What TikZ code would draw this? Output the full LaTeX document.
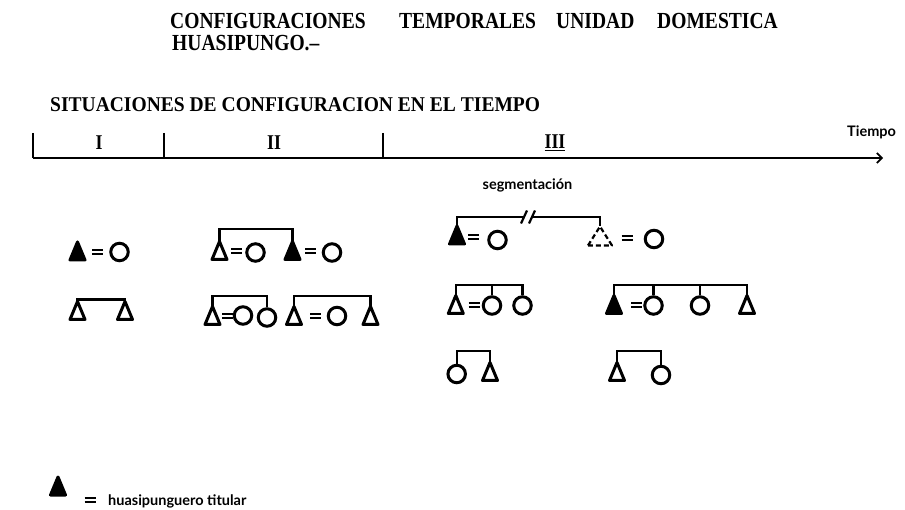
\documentclass[tikz,border=0pt]{standalone}
\usepackage{fontspec}
\usetikzlibrary{arrows.meta}
\newfontfamily\titlefont{Liberation Serif}[FakeStretch=0.85]
\newfontfamily\subtitlefont{Liberation Serif}[FakeStretch=0.93]
\newfontfamily\labelfont{Lato}
\begin{document}
\begin{tikzpicture}[x=1pt,y=-1pt,
  sym/.style={line width=3pt},
  trishape/.style={minimum width=15pt, minimum height=18pt, inner sep=0pt, outer sep=0pt,
    append after command={\pgfextra{\path[sym,line join=round,#1] (\tikzlastnode.south west) -- (\tikzlastnode.north) -- (\tikzlastnode.south east) -- cycle;}}},
  opentri/.style={trishape={draw}},
  solidtri/.style={trishape={draw,fill}},
  dashtri/.style={trishape={draw,dash pattern=on 5pt off 3pt,line width=2.2pt}, minimum width=24pt, minimum height=19pt},
  circ/.style={circle, draw, sym, minimum size=17.5pt, inner sep=0pt},
  br/.style={line width=2.2pt},
  axis/.style={line width=1.7pt},
  eqsign/.pic={\draw[line width=2pt] (-5.5,-2) -- (5.5,-2) (-5.5,2) -- (5.5,2);},
  ttl/.style={font=\titlefont\bfseries\fontsize{23}{25}\selectfont, anchor=base west, inner sep=0pt},
  sttl/.style={font=\subtitlefont\bfseries\fontsize{21}{24}\selectfont, anchor=base west, inner sep=0pt},
  roman/.style={font=\titlefont\bfseries\fontsize{21}{22}\selectfont, inner sep=0pt},
  lbl/.style={font=\labelfont\bfseries\fontsize{14.5}{16}\selectfont, inner sep=0pt}
]
\useasboundingbox (0,0) rectangle (905,510);

% titles
\node[ttl] (w1) at (170,29) {CONFIGURACIONES};
\node[ttl] (w2) at (399,29) {TEMPORALES};
\node[ttl] (w3) at (556,29) {UNIDAD};
\node[ttl] (w4) at (657,29) {DOMESTICA};
\node[ttl] (w5) at (172,51) {HUASIPUNGO.–};
\node[sttl] (sub) at (50,112) {SITUACIONES DE CONFIGURACION EN EL TIEMPO};

% time axis
\coordinate (ax0) at (33,158);
\coordinate (ax1) at (164,158);
\coordinate (ax2) at (383,158);
\coordinate (axend) at (883,158);
\coordinate (tk0) at (33,133);
\coordinate (tk1) at (164,133);
\coordinate (tk2) at (383,133);
\draw[axis,-{Straight Barb[length=5pt,width=10pt]}] (ax0) -- (axend);
\draw[axis] (tk0) -- (ax0);
\draw[axis] (tk1) -- (ax1);
\draw[axis] (tk2) -- (ax2);
\node[roman] (r1) at (99,143) {I};
\node[roman] (r2) at (274,143) {II};
\node[roman] (r3) at (555,143) {\underline{III}};
\node[lbl, anchor=base west] (tiempo) at (847,137) {Tiempo};

% situation I
\node[solidtri] (a1) at (77.5,251) {};
\pic at (97.5,252.5) {eqsign};
\node[circ] (a2) at (119.5,252) {};

\node[opentri] (b1) at (77.5,310.5) {};
\node[opentri] (b2) at (125,310.5) {};
\coordinate (barb) at (0,299.5);
\draw[br] (b1.north) -- (b1.north |- barb) -| (b2.north);

% situation II
\node[opentri] (c1) at (219.5,250.5) {};
\pic at (236.5,251.5) {eqsign};
\node[circ] (c2) at (255.5,252.5) {};
\node[solidtri] (c3) at (292.5,250.5) {};
\pic at (310.5,251.5) {eqsign};
\node[circ] (c4) at (332,252.5) {};
\coordinate (barc) at (0,229);
\draw[br] (c1.north) -- (c1.north |- barc) -| (c3.north);

\node[opentri] (d1) at (212.5,315.5) {};
\pic at (227.5,316) {eqsign};
\node[circ] (d2) at (243,315.5) {};
\node[circ] (d3) at (267,317.5) {};
\coordinate (bard) at (0,296);
\draw[br] (d1.north) -- (d1.north |- bard) -| (d3.north);
\node[opentri] (d4) at (294,315.5) {};
\pic at (315.5,316) {eqsign};
\node[circ] (d5) at (337,316) {};
\node[opentri] (d6) at (370.5,315.5) {};
\draw[br] (d4.north) -- (d4.north |- bard) -| (d6.north);

% situation III
\node[lbl, anchor=base] (seg) at (527.5,190) {segmentación};
\node[solidtri] (e1) at (457,235) {};
\pic at (473.5,237.5) {eqsign};
\node[circ] (e2) at (497.5,240) {};
\node[dashtri] (e3) at (600,236) {};
\pic at (627,238) {eqsign};
\node[circ] (e4) at (654,239) {};
\coordinate (bare) at (0,217);
\coordinate (s1) at (523,217);
\coordinate (s2) at (533,217);
\coordinate (sl1a) at (521,223.5);
\coordinate (sl1b) at (527,210.5);
\coordinate (sl2a) at (529,223.5);
\coordinate (sl2b) at (535,210.5);
\draw[br] (e1.north) -- (e1.north |- bare) -- (s1);
\draw[br] (s2) -| (e3.north);
\draw[br] (sl1a) -- (sl1b);
\draw[br] (sl2a) -- (sl2b);

\node[opentri] (f1) at (455.8,304.5) {};
\pic at (474,305.5) {eqsign};
\node[circ] (f2) at (492,305.5) {};
\node[circ] (f3) at (522.5,305.5) {};
\coordinate (barf) at (0,285);
\draw[br] (f1.north) -- (f1.north |- barf) -| (f3.north);
\draw[br] (f2.north) -- (f2.north |- barf);

\node[solidtri] (g1) at (614,304.5) {};
\pic at (636.5,305.5) {eqsign};
\node[circ] (g2) at (653.5,305.5) {};
\node[circ] (g3) at (700,305.5) {};
\node[opentri] (g4) at (747,304.5) {};
\draw[br] (g1.north) -- (g1.north |- barf) -| (g4.north);
\draw[br] (g2.north) -- (g2.north |- barf);
\draw[br] (g3.north) -- (g3.north |- barf);

\node[circ] (h1) at (456.7,374) {};
\node[opentri] (h2) at (490,371.5) {};
\coordinate (barh) at (0,351);
\draw[br] (h1.north) -- (h1.north |- barh) -| (h2.north);
\node[opentri] (i1) at (617,371.5) {};
\node[circ] (i2) at (661,375) {};
\draw[br] (i1.north) -- (i1.north |- barh) -| (i2.north);

% legend
\node[solidtri] (leg) at (58,486) {};
\pic at (90,500) {eqsign};
\node[lbl, anchor=base west] (legtxt) at (108,505) {huasipunguero titular};
\end{tikzpicture}
\end{document}
